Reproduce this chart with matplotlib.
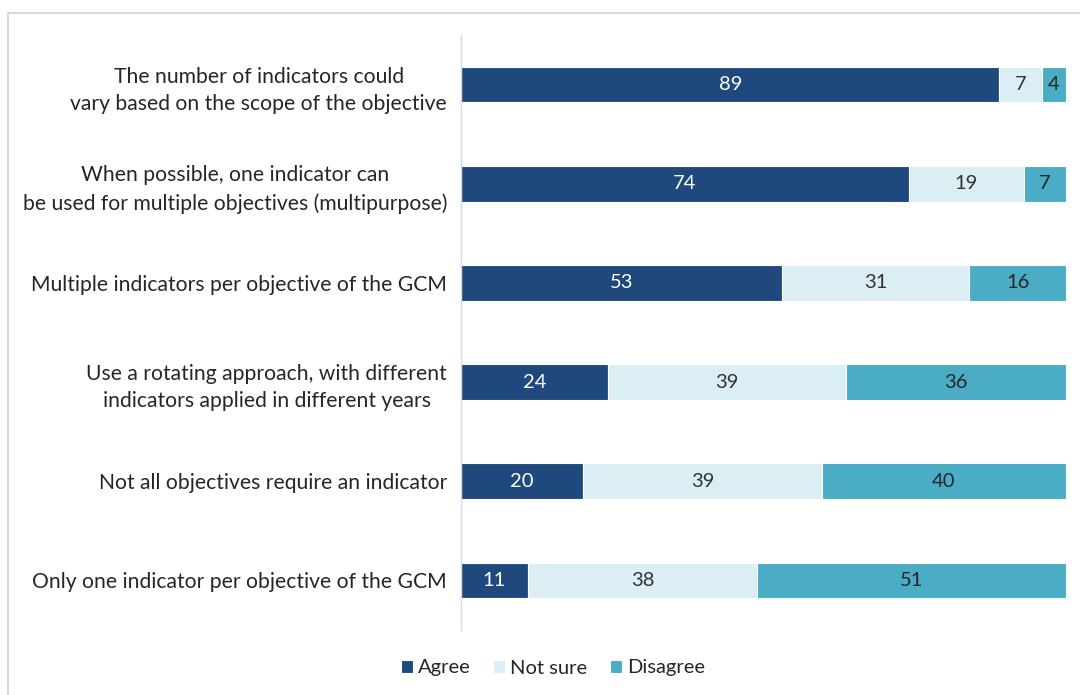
import matplotlib
matplotlib.use('Agg')
from matplotlib import pyplot as plt
from matplotlib.lines import Line2D
import numpy as np

statements = [
    'The number of indicators could\nvary based on the scope of the objective',
    'When possible, one indicator can\nbe used for multiple objectives (multipurpose)',
    'Multiple indicators per objective of the GCM',
    'Use a rotating approach, with different\nindicators applied in different years',
    'Not all objectives require an indicator',
    'Only one indicator per objective of the GCM',
]
agree = [89, 74, 53, 24, 20, 11]
not_sure = [7, 19, 31, 39, 39, 38]
disagree = [4, 7, 16, 36, 40, 51]

series_names = ['Agree', 'Not sure', 'Disagree']
colors = ['#1F497D', '#DAEEF3', '#4BACC6']
text_colors = ['white', '#333333', '#262626']

plt.rcParams['font.family'] = ['Lato', 'DejaVu Sans']

fig = plt.figure(figsize=(10.8, 6.95), dpi=100)
ax = fig.add_axes([461 / 1080, 1 - 630 / 695, 605 / 1080, 595 / 695])

data = np.array([agree, not_sure, disagree], dtype=float)
# bars are stretched to 100% of each row total
shares = data / data.sum(axis=0) * 100
y = np.arange(len(statements))
left = np.zeros(len(statements))
for i, name in enumerate(series_names):
    bars = ax.barh(y, shares[i], left=left, height=0.36, color=colors[i],
                   edgecolor='white', linewidth=0.8, label=name)
    for b, v in zip(bars, data[i]):
        ax.text(b.get_x() + b.get_width() / 2, b.get_y() + b.get_height() / 2,
                f'{int(v)}', ha='center', va='center', fontsize=14.5,
                color=text_colors[i])
    left += shares[i]

ax.set_xlim(0, 100)
ax.set_ylim(len(statements) - 0.5, -0.5)
ax.set_yticks(y)
ax.set_yticklabels(statements, fontsize=15.2, color='#262626', ha='right',
                   multialignment='center', linespacing=1.45)
ax.tick_params(axis='y', length=0, pad=10)
ax.set_xticks([])
for s in ['top', 'right', 'bottom']:
    ax.spines[s].set_visible(False)
ax.spines['left'].set_color('#D9D9D9')
ax.spines['left'].set_linewidth(1)

fig.legend(loc='center', bbox_to_anchor=(553 / 1080, 1 - 668 / 695), ncol=3,
           frameon=False, fontsize=14.5, handlelength=0.6, handleheight=0.6,
           handletextpad=0.25, columnspacing=1.1, labelcolor='#262626')

# thin frame along top and left edges
fig.add_artist(Line2D([8 / 1080, 1], [1 - 13 / 695, 1 - 13 / 695],
                      color='#D9D9D9', linewidth=1.5))
fig.add_artist(Line2D([8 / 1080, 8 / 1080], [0, 1 - 13 / 695],
                      color='#D9D9D9', linewidth=1.5))

fig.savefig('out.png', dpi=100)
